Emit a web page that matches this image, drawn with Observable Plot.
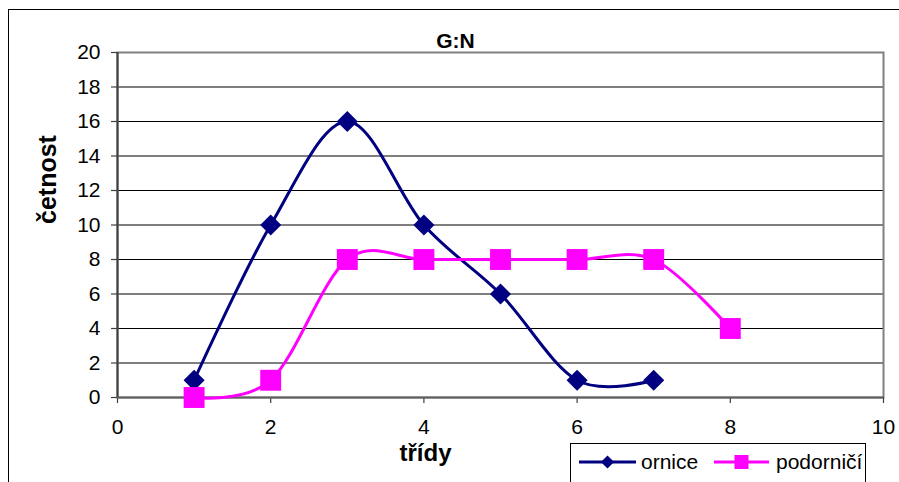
<!DOCTYPE html>
<html>
<head>
<meta charset="utf-8">
<script src="https://cdn.jsdelivr.net/npm/d3@7"></script>
<script src="https://cdn.jsdelivr.net/npm/@observablehq/plot@0.6"></script>
<style>
  html, body { margin: 0; padding: 0; background: #fff; }
  body { width: 899px; height: 482px; overflow: hidden; font-family: "Liberation Sans", Arial, sans-serif; }
  #wrap { position: relative; width: 899px; height: 482px; overflow: hidden; }
  #frame { position: absolute; left: 8px; top: 9px; width: 905px; height: 500px; border: 1.5px solid #000; box-sizing: border-box; }
  #chart { position: absolute; left: 0; top: 0; }
  #legend { position: absolute; left: 570px; top: 443px; width: 296px; height: 60px; border: 1px solid #000; box-sizing: border-box; background: #fff; }
</style>
</head>
<body>
<div id="wrap">
  <div id="frame"></div>
  <div id="chart"></div>
  <div id="legend"></div>
</div>
<script>
// ---- data ----
const titleText = "G:N";
const xLabel = "třídy";
const yLabel = "četnost";
const seriesNames = ["ornice", "podorničí"];
const orniceX = [1, 2, 3, 4, 5, 6, 7];
const orniceY = [1, 10, 16, 10, 6, 1, 1];
const podorniciX = [1, 2, 3, 4, 5, 6, 7, 8];
const podorniciY = [0, 1, 8, 8, 8, 8, 8, 4];
const xTicks = [0, 2, 4, 6, 8, 10];
const yTicks = [0, 2, 4, 6, 8, 10, 12, 14, 16, 18, 20];

const colors = ["#000080", "#ff00ff"];

const orn = orniceX.map((x, i) => ({x, y: orniceY[i]}));
const pod = podorniciX.map((x, i) => ({x, y: podorniciY[i]}));

const chart = Plot.plot({
  width: 899,
  height: 482,
  marginLeft: 117,
  marginRight: 16,
  marginTop: 52,
  marginBottom: 85,
  style: { fontFamily: "Liberation Sans, Arial, sans-serif", fontSize: "21px", background: "transparent", overflow: "visible", color: "#000" },
  x: { domain: [0, 10] },
  y: { domain: [0, 20] },
  marks: [
    Plot.gridY(yTicks.filter(d => d > 0 && d < 20), { stroke: "#000", strokeOpacity: 1, strokeWidth: 1.1 }),
    Plot.frame({ stroke: "#808080", strokeWidth: 2 }),
    Plot.axisX({ ticks: xTicks, tickSize: 6, tickPadding: 16, label: null, stroke: "#404040", strokeWidth: 1.2, fill: "#000" }),
    Plot.axisY({ ticks: yTicks, tickSize: 6, tickPadding: 11, label: null, stroke: "#404040", strokeWidth: 1.2, fill: "#000" }),
    Plot.ruleX([0], { stroke: "#404040", strokeWidth: 2 }),
    Plot.ruleY([0], { stroke: "#606060", strokeWidth: 2 }),
    Plot.line(orn, { x: "x", y: "y", stroke: colors[0], strokeWidth: 3, curve: "cardinal" }),
    Plot.line(pod, { x: "x", y: "y", stroke: colors[1], strokeWidth: 3, curve: "cardinal" }),
    Plot.dot(orn, { x: "x", y: "y", symbol: "diamond2", r: 9.5, fill: colors[0], stroke: null }),
    Plot.dot(pod, { x: "x", y: "y", symbol: "square", r: 11.8, fill: colors[1], stroke: null }),
    Plot.text([titleText], { frameAnchor: "top", dx: -45, dy: -11, lineAnchor: "middle", fontWeight: "bold", fontSize: 21, fill: "#000" }),
    Plot.text([xLabel], { frameAnchor: "bottom", dx: -75, dy: 56, lineAnchor: "middle", fontWeight: "bold", fontSize: 24, fill: "#000" }),
    Plot.text([yLabel], { frameAnchor: "left", dx: -70, dy: -1, rotate: -90, lineAnchor: "middle", fontWeight: "bold", fontSize: 25, fill: "#000" })
  ]
});
document.getElementById("chart").appendChild(chart);

// ---- legend ----
const lg = d3.select("#legend").append("svg").attr("width", 296).attr("height", 60)
  .style("font-family", "Liberation Sans, Arial, sans-serif");
const items = [
  { name: seriesNames[0], color: colors[0], sym: d3.symbolDiamond2, size: 110, x0: 8, x1: 65, tx: 70 },
  { name: seriesNames[1], color: colors[1], sym: d3.symbolSquare, size: 196, x0: 143, x1: 198, tx: 205 }
];
items.forEach(it => {
  const g = lg.append("g");
  g.append("line").attr("x1", it.x0).attr("x2", it.x1).attr("y1", 18).attr("y2", 18)
    .attr("stroke", it.color).attr("stroke-width", 3);
  g.append("path").attr("d", d3.symbol(it.sym, it.size)())
    .attr("transform", `translate(${(it.x0 + it.x1) / 2},18)`).attr("fill", it.color);
  g.append("text").attr("x", it.tx).attr("y", 18).attr("dy", "0.35em")
    .attr("font-size", 21).attr("fill", "#000").text(it.name);
});
</script>
</body>
</html>
